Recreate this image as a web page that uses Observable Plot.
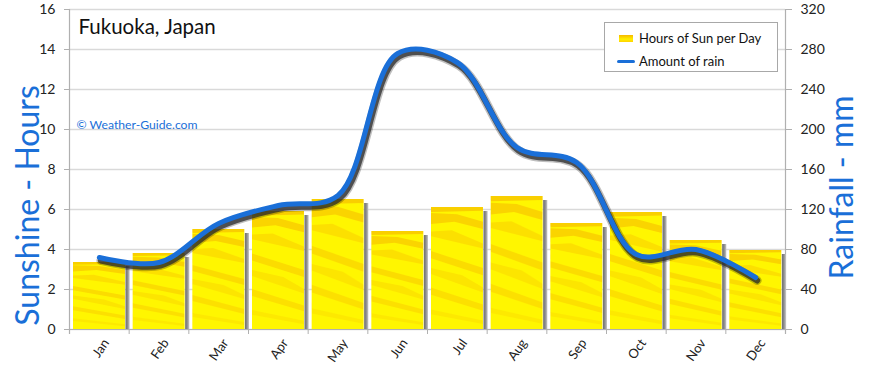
<!DOCTYPE html>
<html><head><meta charset="utf-8">
<script src="https://cdn.jsdelivr.net/npm/d3@7"></script>
<script src="https://cdn.jsdelivr.net/npm/@observablehq/plot@0.6"></script>
<style>
html,body{margin:0;padding:0;background:#fff;}
#chart{position:relative;width:870px;height:368px;font-family:Lato,"Open Sans",sans-serif;}
#legend{position:absolute;left:604px;top:22px;width:172px;height:48px;border:1px solid #a8a8a8;background:#fff;font-size:13px;color:#111;}
#legend .row{position:absolute;left:0;display:flex;align-items:center;}
</style></head><body><div id="chart"></div>
<script>
const months = ["Jan","Feb","Mar","Apr","May","Jun","Jul","Aug","Sep","Oct","Nov","Dec"];
const sunHours = [3.35,3.8,5.0,5.9,6.5,4.9,6.1,6.65,5.3,5.85,4.45,3.95];
const rainMm = [72,67,106,124,134,276,267,182,167,75,80,52];
const hourTicks = [0,2,4,6,8,10,12,14,16];
const rainTicks = [0,40,80,120,160,200,240,280,320];
const titleText = "Fukuoka, Japan";
const copyText = "© Weather-Guide.com";
const leftLabel = "Sunshine - Hours";
const rightLabel = "Rainfall - mm";
const legendSun = "Hours of Sun per Day";
const legendRain = "Amount of rain";

const RAIN_PER_HOUR = rainTicks[rainTicks.length-1] / hourTicks[hourTicks.length-1];
const data = months.map((m,i)=>({i, month:m, sun:sunHours[i], rain:rainMm[i]}));
const FONT = "Lato, 'Open Sans', sans-serif";
const BLUE = "#1a6fd8";

const plot = Plot.plot({
  width: 870, height: 368,
  marginLeft: 69, marginRight: 85, marginTop: 9, marginBottom: 39,
  style: {fontFamily: FONT, fontSize: "14px", color: "#222", background: "#fff", overflow: "visible"},
  x: {type: "linear", domain: [0, 12], axis: null},
  y: {domain: [0, 16], axis: null},
  marks: [
    Plot.ruleY(hourTicks, {stroke: "#d9d9d9", strokeWidth: 1.6}),
    Plot.axisY(hourTicks, {anchor: "left", tickSize: 5, tickPadding: 9, stroke: "#b0b0b0", fill: "#222", fontSize: 14, label: null}),
    Plot.axisY(rainTicks.map(d => d / RAIN_PER_HOUR), {anchor: "right", tickSize: 6, tickPadding: 9, stroke: "#b0b0b0", fill: "#222", fontSize: 14, label: null, tickFormat: d => String(Math.round(d * RAIN_PER_HOUR))}),
    Plot.axisX(d3.range(13), {anchor: "bottom", tickSize: 5, tickFormat: () => "", stroke: "#b0b0b0", label: null}),
    Plot.axisX(data.map(d => d.i + 0.5), {anchor: "bottom", tickSize: 0, tickPadding: 11, tickRotate: -55, dx: 7, fontSize: 13, fill: "#222", label: null, tickFormat: d => months[Math.round(d - 0.5)]}),
    Plot.ruleX([0, 12], {y1: -0.25, y2: 16, stroke: "#b0b0b0", strokeWidth: 1.2}),
    Plot.ruleY([0], {x1: -0.08, x2: 12, stroke: "#b0b0b0", strokeWidth: 1.2}),
    // bar shadows
    Plot.rectY(data, {x1: d => d.i, x2: d => d.i + 1, y1: 0, y2: d => d.sun - 0.2, insetLeft: 56.5, insetRight: -1, fill: "url(#shadowGrad)"}),
    // bars
    Plot.rectY(data, {x1: d => d.i, x2: d => d.i + 1, y1: 0, y2: d => d.sun, insetLeft: 4, insetRight: 3.7, fill: "url(#sunTex)"}),
    // line shadow (soft, two passes)
    Plot.line(data, {x: d => d.i + 0.5, y: d => d.rain / RAIN_PER_HOUR, curve: "catmull-rom", stroke: "#000", strokeOpacity: 0.25, strokeWidth: 9, dx: 1.5, dy: 3}),
    Plot.line(data, {x: d => d.i + 0.5, y: d => d.rain / RAIN_PER_HOUR, curve: "catmull-rom", stroke: "#2a2a2a", strokeOpacity: 0.75, strokeWidth: 6, dx: 1.5, dy: 3}),
    Plot.line(data, {x: d => d.i + 0.5, y: d => d.rain / RAIN_PER_HOUR, curve: "catmull-rom", stroke: BLUE, strokeWidth: 5, strokeLinecap: "round"}),
    Plot.text([titleText], {frameAnchor: "top-left", dx: 9, dy: 10, text: d => d, fontSize: 20.5, fill: "#111", textAnchor: "start", lineAnchor: "top"}),
    Plot.text([copyText], {frameAnchor: "top-left", dx: 7, dy: 111, text: d => d, fontSize: 12.2, fill: BLUE, textAnchor: "start", lineAnchor: "top"}),
    Plot.text([leftLabel], {frameAnchor: "left", dx: -41, dy: 36, rotate: -90, text: d => d, fontSize: 32, fill: BLUE, textAnchor: "middle"}),
    Plot.text([rightLabel], {frameAnchor: "right", dx: 57, dy: 18, rotate: -90, text: d => d, fontSize: 32, fill: BLUE, textAnchor: "middle"})
  ]
});

// defs: textures
const svg = d3.select(plot);
const defs = svg.insert("defs", ":first-child");
const sg = defs.append("linearGradient").attr("id", "shadowGrad").attr("x1", 0).attr("x2", 1).attr("y1", 0).attr("y2", 0);
sg.append("stop").attr("offset", 0).attr("stop-color", "#6e6e6e");
sg.append("stop").attr("offset", 0.5).attr("stop-color", "#8c8c8c");
sg.append("stop").attr("offset", 1).attr("stop-color", "#c8c8c8");
const pat = defs.append("pattern").attr("id", "sunTex").attr("patternUnits", "objectBoundingBox").attr("patternContentUnits", "objectBoundingBox").attr("width", 1).attr("height", 1);
pat.append("rect").attr("width", 1).attr("height", 1).attr("fill", "#fff600");
const streaks = [
  ["M0,0 L1,0 L1,0.03 L0,0.04 Z", 0.45],
  ["M0,0.05 L0.5,0.06 L1,0.12 L1,0.18 L0.45,0.12 L0,0.14 Z", 0.4],
  ["M0,0.2 L0.4,0.19 L1,0.3 L1,0.34 L0,0.24 Z", 0.25],
  ["M0,0.36 L1,0.5 L1,0.56 L0,0.42 Z", 0.3],
  ["M0,0.5 L0.6,0.56 L1,0.66 L1,0.7 L0,0.55 Z", 0.2],
  ["M0,0.66 L1,0.8 L1,0.85 L0,0.72 Z", 0.25],
  ["M0,0.84 L1,0.93 L1,0.96 L0,0.88 Z", 0.15]
];
streaks.forEach(([p, o]) => pat.append("path").attr("d", p).attr("fill", "#f2a000").attr("fill-opacity", o));

const chart = document.getElementById("chart");
chart.appendChild(plot);
const legend = document.createElement("div");
legend.id = "legend";
legend.innerHTML = `
<div class="row" style="top:7px;left:14px"><span style="display:inline-block;width:14px;height:7px;background:linear-gradient(#f6b800,#fff000 60%,#ffd200);margin-right:6px"></span><span>${legendSun}</span></div>
<div class="row" style="top:30px;left:12px"><span style="display:inline-block;width:18px;height:3px;border-radius:2px;background:${BLUE};margin-right:4px"></span><span>${legendRain}</span></div>`;
chart.appendChild(legend);
</script></body></html>
